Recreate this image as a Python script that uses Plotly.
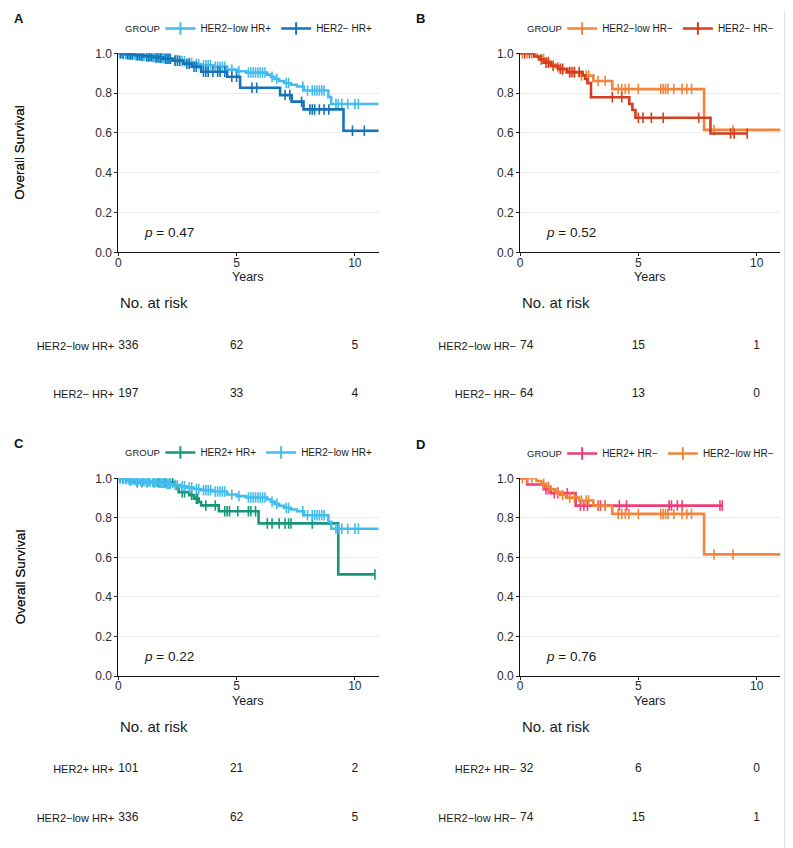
import plotly.graph_objects as go

# page body has an 8px margin: the figure is sized to fill the rest of the window
OFF = 8
W, H = 793 - OFF, 848 - OFF
FONT = "Liberation Sans, Arial, sans-serif"

# ---------------- groups & colours ----------------
G_LOW_P = "HER2−low HR+"
G_NEG_P = "HER2− HR+"
G_POS_P = "HER2+ HR+"
G_LOW_N = "HER2−low HR−"
G_NEG_N = "HER2− HR−"
G_POS_N = "HER2+ HR−"

COL = {
    G_LOW_P: "#44BDEE",
    G_NEG_P: "#1673B8",
    G_POS_P: "#16977A",
    G_LOW_N: "#F3843A",
    G_NEG_N: "#D43D1E",
    G_POS_N: "#EE3C7C",
}

# ---------------- KM data (years, survival) ----------------
lowp_event_t = [0.15, 0.4, 0.65, 0.9, 1.15, 1.4, 1.7, 2.0, 2.3, 2.6, 2.9, 3.2, 3.5, 4.0, 4.6,
                5.0, 5.4, 6.3, 6.45, 6.6, 6.8, 7.0, 7.3, 7.55, 7.85, 8.88, 9.0]
lowp_event_s = [0.997, 0.994, 0.991, 0.988, 0.985, 0.981, 0.977, 0.972, 0.966, 0.960, 0.953,
                0.946, 0.940, 0.933, 0.918, 0.910, 0.903, 0.893, 0.882, 0.871, 0.861, 0.851,
                0.842, 0.833, 0.813, 0.780, 0.745]
lowp_censor_t = [0.05, 0.1, 0.2, 0.3, 0.35, 0.45, 0.5, 0.55, 0.6, 0.7, 0.75, 0.8, 0.85, 0.95,
                 1.0, 1.05, 1.1, 1.2, 1.25, 1.3, 1.35, 1.45, 1.5, 1.55, 1.6, 1.65, 1.75, 1.8,
                 1.85, 1.9, 1.95, 2.05, 2.1, 2.15, 2.2, 2.4, 2.5, 2.7, 2.8, 3.0, 3.1, 3.3, 3.4,
                 3.6, 3.7, 3.8, 3.9, 4.1, 4.2, 4.3, 4.4, 4.5, 4.8, 5.1, 5.5, 5.6, 5.7, 5.8, 5.9,
                 6.0, 6.1, 6.2, 6.5, 6.7, 7.1, 7.2, 7.8, 8.0, 8.2, 8.3, 8.4, 8.5, 8.6, 8.7, 9.2,
                 9.3, 9.45, 9.7, 10.0, 10.15]
lowp_end_t = 11.3

negp_event_t = [0.3, 0.7, 1.1, 1.5, 1.9, 2.3, 2.75, 3.1, 3.5, 4.6, 5.15, 6.84, 7.33, 7.83, 9.52]
negp_event_s = [0.995, 0.990, 0.985, 0.979, 0.972, 0.963, 0.948, 0.933, 0.907, 0.882, 0.827,
                0.790, 0.757, 0.718, 0.611]
negp_censor_t = [0.1, 0.2, 0.4, 0.5, 0.6, 0.8, 0.9, 1.0, 1.2, 1.3, 1.4, 1.6, 1.7, 1.8, 2.0, 2.1,
                 2.2, 2.4, 2.5, 2.6, 2.9, 3.0, 3.2, 3.3, 3.6, 3.7, 3.8, 4.0, 4.2, 4.3, 4.5, 4.8,
                 5.0, 5.65, 5.85, 7.05, 7.25, 7.75, 8.1, 8.2, 8.3, 8.5, 8.7, 8.9, 9.9, 10.4]
negp_end_t = 11.3

posp_event_t = [0.35, 0.6, 2.4, 2.5, 2.55, 3.0, 3.2, 3.4, 3.5, 4.25, 5.93, 9.3]
posp_event_s = [0.990, 0.980, 0.965, 0.948, 0.930, 0.915, 0.897, 0.880, 0.863, 0.833, 0.772, 0.514]
posp_censor_t = [0.2, 0.5, 0.8, 1.0, 1.2, 1.5, 1.7, 1.9, 2.0, 2.2, 2.3, 2.7, 2.8, 3.1, 3.3,
                 3.35, 3.7, 4.1, 4.5, 4.6, 4.7, 5.05, 5.5, 5.6, 5.8, 6.3, 6.5, 6.8, 7.05, 7.2,
                 7.3, 8.2, 10.85]
posp_end_t = 10.85

lown_event_t = [0.7, 0.9, 1.1, 1.3, 1.5, 1.7, 1.95, 2.5, 3.1, 3.9, 7.78]
lown_event_s = [0.986, 0.972, 0.958, 0.944, 0.930, 0.916, 0.902, 0.888, 0.861, 0.820, 0.615]
lown_censor_t = [0.1, 0.3, 0.5, 1.0, 1.2, 1.6, 1.8, 2.1, 2.3, 2.6, 2.8, 2.9, 3.3, 3.6, 4.15,
                 4.3, 4.45, 4.6, 5.0, 5.95, 6.05, 6.15, 6.25, 6.5, 6.85, 7.05, 7.25, 8.2, 9.0]
lown_end_t = 11.3

negn_event_t = [0.6, 0.8, 1.0, 1.3, 1.6, 2.0, 2.65, 2.75, 2.85, 3.0, 4.62, 4.75, 4.88, 8.05]
negn_event_s = [0.984, 0.969, 0.953, 0.937, 0.922, 0.906, 0.890, 0.872, 0.850, 0.779, 0.745,
                0.715, 0.676, 0.597]
negn_censor_t = [0.2, 0.4, 0.9, 1.1, 1.2, 1.4, 1.7, 1.8, 2.1, 2.2, 2.3, 2.5, 3.9, 4.3, 5.0,
                 5.2, 5.55, 6.05, 7.55, 8.9, 9.05, 9.6]
negn_end_t = 9.6

posn_event_t = [0.3, 1.0, 1.3, 2.35]
posn_event_s = [0.969, 0.945, 0.925, 0.862]
posn_censor_t = [1.1, 1.2, 1.45, 1.6, 2.0, 2.55, 2.7, 2.85, 3.3, 3.4, 3.6, 4.2, 4.5, 6.3, 6.4,
                 6.65, 6.85, 8.45, 8.55]
posn_end_t = 8.55

KM = {
    G_LOW_P: (lowp_event_t, lowp_event_s, lowp_censor_t, lowp_end_t),
    G_NEG_P: (negp_event_t, negp_event_s, negp_censor_t, negp_end_t),
    G_POS_P: (posp_event_t, posp_event_s, posp_censor_t, posp_end_t),
    G_LOW_N: (lown_event_t, lown_event_s, lown_censor_t, lown_end_t),
    G_NEG_N: (negn_event_t, negn_event_s, negn_censor_t, negn_end_t),
    G_POS_N: (posn_event_t, posn_event_s, posn_censor_t, posn_end_t),
}

# ---------------- numbers at risk ----------------
risk_times = [0, 5, 10]
risk_A = {G_LOW_P: [336, 62, 5], G_NEG_P: [197, 33, 4]}
risk_B = {G_LOW_N: [74, 15, 1], G_NEG_N: [64, 13, 0]}
risk_C = {G_POS_P: [101, 21, 2], G_LOW_P: [336, 62, 5]}
risk_D = {G_POS_N: [32, 6, 0], G_LOW_N: [74, 15, 1]}

p_values = {"A": "0.47", "B": "0.52", "C": "0.22", "D": "0.76"}
y_ticks = [0.0, 0.2, 0.4, 0.6, 0.8, 1.0]
x_ticks = [0, 5, 10]

# ---------------- layout geometry (window pixels) ----------------
def px(x):
    return (x - OFF) / W

def py(y):
    return 1 - (y - OFF) / H

panels = [
    ("A", [G_LOW_P, G_NEG_P], risk_A, (118.3, 378.5), (53.3, 252.3), (322, 418), (19, 19)),
    ("B", [G_LOW_N, G_NEG_N], risk_B, (520.0, 780.3), (53.3, 252.3), (322, 418), (420, 19)),
    ("C", [G_POS_P, G_LOW_P], risk_C, (118.3, 378.5), (478.3, 676.0), (745, 842), (19, 443)),
    ("D", [G_POS_N, G_LOW_N], risk_D, (520.0, 780.3), (478.3, 676.0), (745, 842), (420, 444)),
]


def surv_at(t, ev_t, ev_s):
    s = 1.0
    for et, es in zip(ev_t, ev_s):
        if et <= t:
            s = es
    return s


fig = go.Figure()
layout = dict(
    width=W, height=H, margin=dict(l=0, r=0, t=0, b=0, pad=0, autoexpand=False),
    paper_bgcolor="white", plot_bgcolor="white",
    font=dict(family=FONT, color="#1a1a1a"),
    showlegend=True,
)
annotations = []

for i, (letter, groups, risk, (x0, x1), (ytop, ybot), (rtop, rbot), (lx, ly)) in enumerate(panels):
    k = i + 1
    kr = i + 5
    xa = "x" if k == 1 else f"x{k}"
    ya = "y" if k == 1 else f"y{k}"
    xr, yr = f"x{kr}", f"y{kr}"
    leg = "legend" if k == 1 else f"legend{k}"
    xdom = [px(x0), px(x1)]
    xmid = (x0 + x1) / 2

    layout["xaxis" if k == 1 else f"xaxis{k}"] = dict(
        domain=xdom, anchor=ya, range=[0, 11], tickvals=x_ticks, ticks="outside",
        ticklen=3, tickwidth=1, tickcolor="#222", showline=True, linecolor="#111",
        linewidth=1, showgrid=False, zeroline=False, automargin=False,
        ticklabelstandoff=-4, tickfont=dict(size=12, color="#2b2b2b"),
    )
    layout["yaxis" if k == 1 else f"yaxis{k}"] = dict(
        domain=[py(ybot), py(ytop)], anchor=xa, range=[0, 1.0], tickvals=y_ticks,
        ticktext=[f"{v:.1f}" for v in y_ticks], ticks="outside", ticklen=3, tickwidth=1,
        tickcolor="#222", showline=True, linecolor="#111", linewidth=1,
        showgrid=True, gridcolor="#EBEBEB", gridwidth=1, zeroline=False, automargin=False,
        tickfont=dict(size=12, color="#2b2b2b"),
    )
    # risk table axes
    layout[f"xaxis{kr}"] = dict(domain=xdom, anchor=yr, range=[0, 11], visible=False,
                                matches=xa, automargin=False)
    layout[f"yaxis{kr}"] = dict(
        domain=[py(rbot), py(rtop)], anchor=xr, type="category",
        categoryorder="array", categoryarray=list(reversed(groups)),
        range=[-0.5, 1.5], showline=False, showgrid=False, zeroline=False,
        ticks="", tickfont=dict(size=11, color="#1a1a1a"), ticklabelstandoff=3,
        automargin=False,
    )

    for g in groups:
        ev_t, ev_s, cen_t, end_t = KM[g]
        xs = [0.0] + list(ev_t) + [end_t]
        ys = [1.0] + list(ev_s) + [ev_s[-1]]
        fig.add_trace(go.Scatter(
            x=xs, y=ys, mode="lines", line=dict(color=COL[g], width=2.6, shape="hv"),
            xaxis=xa, yaxis=ya, showlegend=False, hoverinfo="skip",
        ))
        fig.add_trace(go.Scatter(
            x=cen_t, y=[surv_at(t, ev_t, ev_s) for t in cen_t], mode="markers",
            marker=dict(symbol="line-ns", size=7.5, color=COL[g],
                        line=dict(color=COL[g], width=1.6)),
            xaxis=xa, yaxis=ya, showlegend=False, hoverinfo="skip", cliponaxis=True,
        ))
        fig.add_trace(go.Scatter(
            x=[None], y=[None], mode="lines+markers", name=g,
            line=dict(color=COL[g], width=2.5),
            marker=dict(symbol="line-ns", size=9, color=COL[g],
                        line=dict(color=COL[g], width=2)),
            xaxis=xa, yaxis=ya, legend=leg, showlegend=True,
        ))
        fig.add_trace(go.Scatter(
            x=risk_times, y=[g] * len(risk_times), mode="text",
            text=[str(v) for v in risk[g]],
            textposition=["middle right", "middle center", "middle center"],
            textfont=dict(size=12, color="#1a1a1a"),
            xaxis=xr, yaxis=yr, showlegend=False, hoverinfo="skip",
        ))

    # legend (items) + "GROUP" label as annotation so both share one baseline
    leg_x0 = xmid - 88
    layout[leg] = dict(
        orientation="h", x=px(leg_x0), xanchor="left",
        y=py(ly + 9.5), yanchor="middle",
        font=dict(size=10, color="#1a1a1a"), itemwidth=30,
        bgcolor="rgba(0,0,0,0)", tracegroupgap=0,
    )
    annotations.append(dict(text="GROUP", x=px(leg_x0 + 2), y=py(ly + 9.5), xref="paper",
                            yref="paper", showarrow=False, xanchor="right",
                            yanchor="middle", font=dict(size=9.5, color="#1a1a1a")))

    annotations.append(dict(text=f"<b>{letter}</b>", x=px(lx), y=py(ly), xref="paper",
                            yref="paper", showarrow=False, font=dict(size=13, color="#111"),
                            xanchor="center", yanchor="middle"))
    annotations.append(dict(text="Overall Survival", x=px(20), y=py((ytop + ybot) / 2),
                            xref="paper", yref="paper", textangle=-90, showarrow=False,
                            font=dict(size=13.5, color="#1a1a1a"),
                            xanchor="center", yanchor="middle"))
    annotations.append(dict(text="Years", x=px(xmid), y=py(ybot + 24.7), xref="paper",
                            yref="paper", showarrow=False, xanchor="center",
                            yanchor="middle", font=dict(size=12.5, color="#1a1a1a")))
    annotations.append(dict(text=f"<i>p</i> = {p_values[letter]}", x=1.0, y=0.1,
                            xref=xa, yref=ya, showarrow=False, xanchor="left",
                            yanchor="middle", font=dict(size=13.5, color="#1a1a1a")))
    annotations.append(dict(text="No. at risk", x=0, y=py(ybot + 50), xref=xa, yref="paper",
                            showarrow=False, xanchor="left", yanchor="middle",
                            font=dict(size=15, color="#1a1a1a")))

layout["annotations"] = annotations
layout["shapes"] = [dict(type="line", xref="paper", yref="paper", x0=px(785), x1=px(785),
                         y0=py(10), y1=0, line=dict(color="#DADADA", width=1.5))]

fig.update_layout(**layout)
fig.write_html("out.html")
